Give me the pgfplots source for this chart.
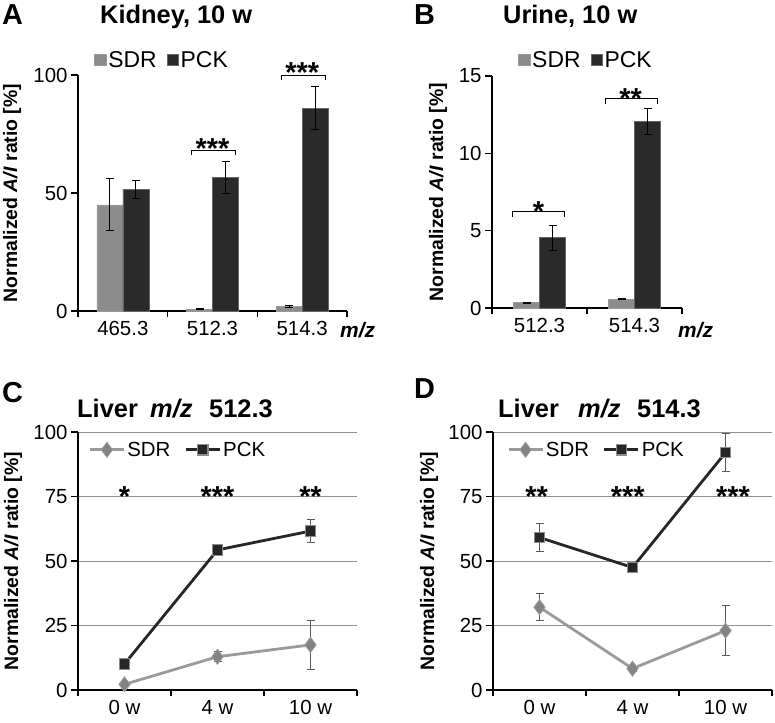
\documentclass[border=0pt]{standalone}
\usepackage{fontspec}
\setmainfont{Liberation Sans}
\usepackage{pgfplots}
\pgfplotsset{compat=1.18}

\definecolor{sdrbar}{HTML}{8C8C8C}
\definecolor{pckbar}{HTML}{2A2A2A}
\definecolor{sdrline}{HTML}{9A9A9A}
\definecolor{pckline}{HTML}{262626}
\definecolor{gridgray}{HTML}{8F8F8F}

\newcommand{\tickfont}{\fontsize{20.5}{22}\selectfont}
\newcommand{\starfont}{\fontsize{29}{29}\selectfont\bfseries}
\newcommand{\letterfont}{\fontsize{29}{29}\selectfont\bfseries}
\newcommand{\titlefont}{\fontsize{25.5}{26}\selectfont\bfseries}

\tikzset{bracket/.style={black, line width=1bp}}

\pgfplotsset{
  panel/.style={
    scale only axis,
    axis lines*=left,
    axis line style={black, line width=1.3bp},
    tick align=outside,
    major tick length=7bp,
    minor tick length=6bp,
    every major y tick/.append style={black, line width=1.1bp},
    every major x tick/.append style={draw=none},
    every minor x tick/.append style={black, line width=1.1bp},
    xtick={1,2,3},
    ymin=0,
    tick label style={font=\tickfont},
    /pgf/number format/assume math mode=true,
    ylabel={\bfseries Normalized \textit{A/I} ratio [\%]},
    ylabel style={font=\fontsize{19.5}{21}\selectfont, anchor=center},
    legend columns=2,
    clip=false,
  },
  barpanel/.style={panel, ybar=0pt, bar width=26bp,
    legend style={draw=none, fill=none, inner sep=0pt,
      font=\fontsize{23}{24}\selectfont,
      /tikz/every even column/.append style={column sep=8bp}},
    legend image code/.code={\draw[##1] (0bp,-5.7bp) rectangle (11.4bp,5.7bp);}},
  linepanel/.style={panel, ymax=100, xmin=0.5, xmax=3.5,
    minor xtick={0.5,1.5,2.5,3.5},
    ytick={0,25,50,75,100},
    ymajorgrids, grid style={gridgray, line width=1bp},
    xticklabels={0 w,4 w,10 w},
    legend style={draw=none, fill=none, inner sep=0pt, font=\tickfont,
      /tikz/every even column/.append style={column sep=12bp}},
    legend image code/.code={\draw[mark repeat=2,mark phase=2,##1]
      plot coordinates {(0bp,0bp) (17bp,0bp) (34bp,0bp)};}},
  ebar/.style={error bars/.cd, y dir=both, y explicit,
    error bar style={black, line width=1bp},
    error mark options={rotate=90, black, line width=1bp, mark size=4bp}},
  lbar/.style={error bars/.cd, y dir=both, y explicit,
    error bar style={black!65, line width=0.9bp},
    error mark options={rotate=90, black!65, line width=0.9bp, mark size=4bp}},
  sdrl/.style={sdrline, line width=2.8bp, mark=diamond*, mark size=7.5bp,
    mark options={fill=sdrline!85!black, draw=black!40, line width=0.8bp}},
  pckl/.style={pckline, line width=2.8bp, mark=square*, mark size=5.2bp,
    mark options={fill=pckline, draw=black!45, line width=1.1bp}},
}

\begin{document}
\begin{tikzpicture}
\useasboundingbox (0,0) rectangle (775bp,-723bp);

% panel headings
\node[anchor=base west, inner sep=0, font=\letterfont] at (2bp,-24bp) {A};
\node[anchor=base west, inner sep=0, font=\titlefont] at (100bp,-23bp) {Kidney, 10 w};
\node[anchor=base west, inner sep=0, font=\letterfont] at (414bp,-24bp) {B};
\node[anchor=base west, inner sep=0, font=\titlefont] at (503bp,-23bp) {Urine, 10 w};
\node[anchor=base west, inner sep=0, font=\letterfont] at (2bp,-402bp) {C};
\node[anchor=base west, inner sep=0, font=\titlefont] at (77bp,-417bp) {Liver};
\node[anchor=base west, inner sep=0, font=\titlefont\itshape] at (150bp,-417bp) {m/z};
\node[anchor=base west, inner sep=0, font=\titlefont] at (209bp,-417bp) {512.3};
\node[anchor=base west, inner sep=0, font=\letterfont] at (414bp,-398bp) {D};
\node[anchor=base west, inner sep=0, font=\titlefont] at (498bp,-417bp) {Liver};
\node[anchor=base west, inner sep=0, font=\titlefont\itshape] at (578bp,-417bp) {m/z};
\node[anchor=base west, inner sep=0, font=\titlefont] at (637bp,-417bp) {514.3};

% A: kidney
\begin{axis}[barpanel, at={(78bp,-311bp)}, anchor=south west,
  width=269bp, height=236bp, xmin=0.5, xmax=3.5, ymax=100,
  minor xtick={0.5,1.5,2.5,3.5}, ytick={0,50,100},
  xticklabels={465.3,512.3,514.3},
  ylabel style={at={([xshift=-66bp]axis description cs:0,0.5)}},
  legend style={at={(rel axis cs:0.06,1.064)}, anchor=west}]
\addplot[fill=sdrbar, draw=black!40, line width=0.6bp, ebar] coordinates
  {(1,45)+-(0,11) (2,0.8)+-(0,0.3) (3,1.8)+-(0,0.4)};
\addplot[fill=pckbar, draw=black!60, line width=0.6bp, ebar] coordinates
  {(1,51.5)+-(0,4) (2,56.7)+-(0,6.8) (3,86)+-(0,9)};
\legend{SDR,PCK}
\draw[bracket] ([yshift=-5bp]axis cs:1.77,68.2) -- (axis cs:1.77,68.2) -- (axis cs:2.26,68.2) -- ([yshift=-5bp]axis cs:2.26,68.2);
\node[anchor=base, inner sep=0, font=\starfont] at (axis cs:2.0,64.5) {***};
\draw[bracket] ([yshift=-5bp]axis cs:2.77,100) -- (axis cs:2.77,100) -- (axis cs:3.26,100) -- ([yshift=-5bp]axis cs:3.26,100);
\node[anchor=base, inner sep=0, font=\starfont] at (axis cs:3.0,96.7) {***};
\node[anchor=base west, inner sep=0, font=\fontsize{21}{21}\selectfont\bfseries\itshape] at ([xshift=-7bp,yshift=-26bp]rel axis cs:1,0) {m/z};
\end{axis}

% B: urine
\begin{axis}[barpanel, at={(492bp,-308bp)}, anchor=south west,
  width=190bp, height=232bp, xmin=0.5, xmax=2.5, ymax=15,
  minor xtick={0.5,1.5,2.5}, xtick={1,2}, ytick={0,5,10,15},
  xticklabels={512.3,514.3},
  ylabel style={at={([xshift=-54bp]axis description cs:0,0.5)}},
  legend style={at={(rel axis cs:0.137,1.07)}, anchor=west}]
\addplot[fill=sdrbar, draw=black!40, line width=0.6bp, ebar] coordinates
  {(1,0.35)+-(0,0.03) (2,0.57)+-(0,0.05)};
\addplot[fill=pckbar, draw=black!60, line width=0.6bp, ebar] coordinates
  {(1,4.55)+-(0,0.8) (2,12.05)+-(0,0.85)};
\legend{SDR,PCK}
\draw[bracket] ([yshift=-5bp]axis cs:0.72,6.22) -- (axis cs:0.72,6.22) -- (axis cs:1.26,6.22) -- ([yshift=-5bp]axis cs:1.26,6.22);
\node[anchor=base, inner sep=0, font=\starfont] at (axis cs:0.99,5.6) {*};
\draw[bracket] ([yshift=-5bp]axis cs:1.69,13.53) -- (axis cs:1.69,13.53) -- (axis cs:2.24,13.53) -- ([yshift=-5bp]axis cs:2.24,13.53);
\node[anchor=base, inner sep=0, font=\starfont] at (axis cs:1.96,12.9) {**};
\node[anchor=base west, inner sep=0, font=\fontsize{21}{21}\selectfont\bfseries\itshape] at ([xshift=-4bp,yshift=-29bp]rel axis cs:1,0) {m/z};
\end{axis}

% C: liver 512.3
\begin{axis}[linepanel, at={(78bp,-690bp)}, anchor=south west,
  width=279bp, height=258bp,
  ylabel style={at={([xshift=-65bp]axis description cs:0,0.5)}},
  legend style={at={(rel axis cs:0.037,0.931)}, anchor=west}]
\addplot[sdrl, lbar] coordinates
  {(1,2.2)+-(0,0.8) (2,12.9)+-(0,2) (3,17.5)+-(0,9.4)};
\addplot[pckl, lbar] coordinates
  {(1,10.1)+-(0,1) (2,54.3)+-(0,2) (3,61.6)+-(0,4.5)};
\legend{SDR,PCK}
\node[anchor=base, inner sep=0, font=\starfont] at (axis cs:1,71.2) {*};
\node[anchor=base, inner sep=0, font=\starfont] at (axis cs:2,71.2) {***};
\node[anchor=base, inner sep=0, font=\starfont] at (axis cs:3,71.2) {**};
\end{axis}

% D: liver 514.3
\begin{axis}[linepanel, at={(493bp,-690bp)}, anchor=south west,
  width=279bp, height=258bp,
  ylabel style={at={([xshift=-64bp]axis description cs:0,0.5)}},
  legend style={at={(rel axis cs:0.05,0.931)}, anchor=west}]
\addplot[sdrl, lbar] coordinates
  {(1,32.1)+-(0,5.2) (2,8.3)+-(0,1) (3,23)+-(0,9.7)};
\addplot[pckl, lbar] coordinates
  {(1,59.1)+-(0,5.4) (2,47.5)+-(0,1.5) (3,92)+-(0,7.3)};
\legend{SDR,PCK}
\node[anchor=base, inner sep=0, font=\starfont] at (axis cs:0.97,71.2) {**};
\node[anchor=base, inner sep=0, font=\starfont] at (axis cs:1.95,71.2) {***};
\node[anchor=base, inner sep=0, font=\starfont] at (axis cs:3.08,71.2) {***};
\end{axis}
\end{tikzpicture}
\end{document}
